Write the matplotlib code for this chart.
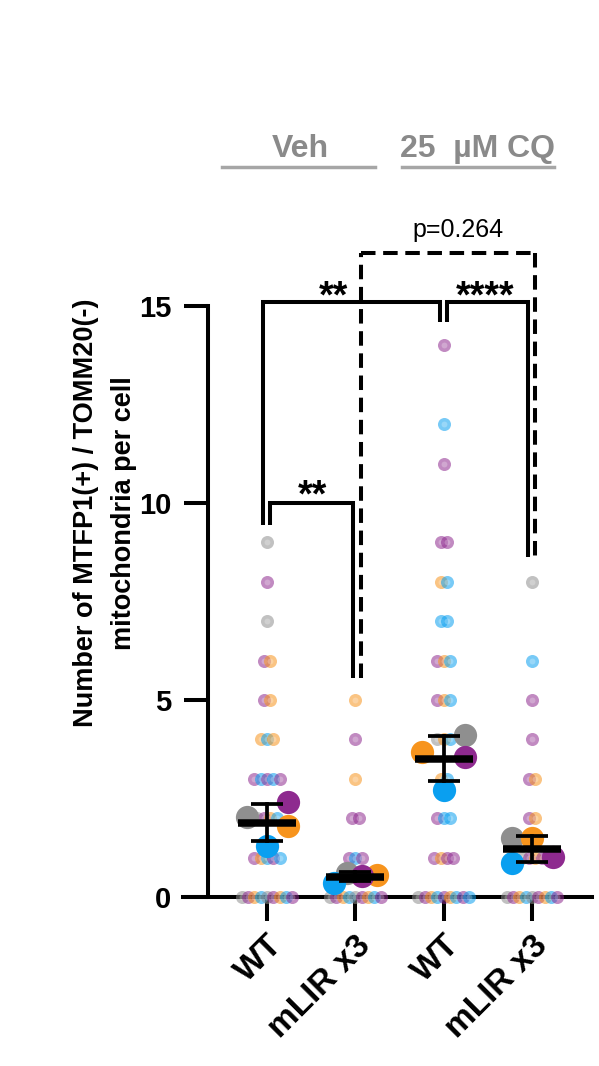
import numpy as np
import matplotlib
matplotlib.use("Agg")
import matplotlib.pyplot as plt
from matplotlib.lines import Line2D

plt.rcParams['font.family'] = ['Liberation Sans', 'DejaVu Sans']

# ---------------- data ----------------
groups = ['WT', 'mLIR x3', 'WT', 'mLIR x3']
treatments = ['Veh', '25  \u00b5M CQ']
replicates = ['rep1', 'rep2', 'rep3', 'rep4']          # gray, purple, orange, blue
rep_colors = ['#8f8f8f', '#8e2a8f', '#f7941d', '#0a9ff0']

# per-cell values (counts per cell) for each replicate (gray, purple, orange, blue)
wt_veh_cells = [
    [9, 7, 2, 0, 0],
    [8, 6, 5, 3, 3, 3, 2, 1, 1, 0, 0, 0],
    [6, 5, 4, 4, 2, 1, 0, 0],
    [4, 3, 3, 2, 1, 1, 0, 0],
]
mlir_veh_cells = [
    [0, 0],
    [4, 2, 2, 1, 1, 0, 0, 0],
    [5, 3, 0, 0],
    [1, 0, 0],
]
wt_cq_cells = [
    [4, 0],
    [14, 11, 9, 9, 6, 5, 2, 1, 1, 1, 0, 0, 0],
    [8, 6, 5, 4, 3, 1, 0, 0],
    [12, 8, 7, 7, 6, 5, 4, 3, 2, 2, 0, 0, 0],
]
mlir_cq_cells = [
    [8, 1, 0, 0],
    [5, 4, 3, 2, 1, 1, 0, 0, 0],
    [3, 2, 1, 0, 0],
    [6, 0, 0],
]
cells = [wt_veh_cells, mlir_veh_cells, wt_cq_cells, mlir_cq_cells]

# replicate means (big dots)
wt_veh_means = [2.03, 2.41, 1.80, 1.29]
mlir_veh_means = [0.61, 0.53, 0.56, 0.36]
wt_cq_means = [4.11, 3.55, 3.68, 2.72]
mlir_cq_means = [1.50, 1.02, 1.50, 0.86]
rep_means = [wt_veh_means, mlir_veh_means, wt_cq_means, mlir_cq_means]

# horizontal placement of the replicate-mean dots (style, category units)
big_offsets = [
    [-0.23, 0.24, 0.24, 0.0],
    [-0.10, 0.08, 0.24, -0.24],
    [0.24, 0.24, -0.24, 0.0],
    [-0.23, 0.24, 0.0, -0.23],
]

# significance annotations
sig_labels = ['**', '**', '****', 'p=0.264']
y_ticks = [0, 5, 10, 15]
y_label = 'Number of MTFP1(+) / TOMM20(-)\nmitochondria per cell'

# ---------------- figure ----------------
W, H = 599, 1066
fig = plt.figure(figsize=(W / 100, H / 100), dpi=100)

def fx(px):
    return px / W

def fy(py):
    return 1 - py / H

ax = fig.add_axes([fx(183), fy(897), fx(592) - fx(183), fy(306) - fy(897)])
xpos = np.arange(len(groups))
ax.set_xlim(-0.951, 3.679)
ax.set_ylim(0, 15)

for s in ['top', 'right']:
    ax.spines[s].set_visible(False)
ax.spines['left'].set_position(('data', -0.668))
ax.spines['left'].set_bounds(0, 15)
for s in ['left', 'bottom']:
    ax.spines[s].set_linewidth(2.9)
    ax.spines[s].set_zorder(1)
ax.tick_params(axis='both', direction='out', length=17.5, width=2.9)
ax.tick_params(axis='y', pad=9, labelsize=21)
ax.tick_params(axis='x', pad=6, labelsize=24)
ax.set_yticks(y_ticks)
ax.set_yticklabels([str(t) for t in y_ticks], fontweight='bold')
ax.set_xticks(xpos)
ax.set_xticklabels(groups, fontweight='bold', rotation=45, ha='right',
                   va='top', rotation_mode='anchor')
ax.patch.set_alpha(0)

# small dots (individual cells), swarm-like rows
step_max = 0.072
width_max = 0.60
for gi, grp in enumerate(cells):
    values = sorted(set(v for rep in grp for v in rep))
    for v in values:
        per_rep = [[ri] * sum(1 for c in rep if c == v) for ri, rep in enumerate(grp)]
        order = []
        while any(per_rep):
            for lst in per_rep:
                if lst:
                    order.append(lst.pop())
        n = len(order)
        step = step_max if n < 2 else min(step_max, width_max / (n - 1))
        xs = xpos[gi] + (np.arange(n) - (n - 1) / 2) * step
        for x, ri in zip(xs, order):
            ax.scatter([x], [v], s=88, color=rep_colors[ri], alpha=0.55,
                       linewidths=0, zorder=3, clip_on=False)
            ax.scatter([x], [v], s=18, color='white', alpha=0.25,
                       linewidths=0, zorder=3, clip_on=False)

# big dots (replicate means)
draw_order = [0, 2, 3, 1]
for gi in range(len(groups)):
    for ri in draw_order:
        ax.scatter([xpos[gi] + big_offsets[gi][ri]], [rep_means[gi][ri]], s=280,
                   color=rep_colors[ri], linewidths=0, zorder=4, clip_on=False)
    m = np.mean(rep_means[gi])
    sd = np.std(rep_means[gi], ddof=1)
    ax.plot([xpos[gi] - 0.33, xpos[gi] + 0.33], [m, m], color='black', lw=5.4,
            solid_capstyle='butt', zorder=6)
    ax.plot([xpos[gi], xpos[gi]], [m - sd, m + sd], color='black', lw=2.7, zorder=6)
    for yy in (m - sd, m + sd):
        ax.plot([xpos[gi] - 0.18, xpos[gi] + 0.18], [yy, yy], color='black', lw=2.7,
                solid_capstyle='butt', zorder=6)

# brackets
def bracket(x1, x2, ytop, yl, yr, ls='-'):
    if ls != '-':
        kw = dict(color='black', lw=2.9, clip_on=False, zorder=5,
                  linestyle=(0, (3.6, 1.9)), dash_capstyle='butt')
        ax.add_line(Line2D([x1, x1], [yl, ytop], **kw))
        ax.add_line(Line2D([x1, x2], [ytop, ytop], **kw))
        ax.add_line(Line2D([x2, x2], [ytop, yr], **kw))
    else:
        kw = dict(color='black', lw=2.9, clip_on=False, zorder=5,
                  solid_joinstyle='miter', solid_capstyle='butt')
        ax.add_line(Line2D([x1, x1, x2, x2], [yl, ytop, ytop, yr], **kw))

bracket(0.034, 0.974, 10.0, 9.44, 5.56)            # WT vs mLIR (Veh)
bracket(-0.045, 1.96, 15.1, 9.44, 14.59)           # WT Veh vs WT CQ
bracket(2.04, 2.955, 15.1, 14.59, 8.63)            # WT CQ vs mLIR CQ
bracket(1.064, 3.034, 16.35, 5.56, 8.63, ls='--')  # mLIR Veh vs mLIR CQ

ax.text(0.51, 9.9, sig_labels[0], ha='center', va='baseline', fontsize=27,
        fontweight='bold', clip_on=False)
ax.text(0.75, 14.97, sig_labels[1], ha='center', va='baseline', fontsize=27,
        fontweight='bold', clip_on=False)
ax.text(2.47, 14.97, sig_labels[2], ha='center', va='baseline', fontsize=27,
        fontweight='bold', clip_on=False)
ax.text(2.16, 16.75, sig_labels[3], ha='center', va='baseline', fontsize=18,
        clip_on=False)

# treatment headers
hdr_color = '#8a8a8a'
fig.text(fx(300), fy(157), treatments[0], ha='center', va='baseline', fontsize=23,
         fontweight='bold', color=hdr_color)
fig.text(fx(478), fy(157), treatments[1], ha='center', va='baseline', fontsize=23,
         fontweight='bold', color=hdr_color)
fig.add_artist(Line2D([fx(222), fx(375)], [fy(167), fy(167)], color='#a6a6a6', lw=2.5))
fig.add_artist(Line2D([fx(402), fx(554)], [fy(167), fy(167)], color='#a6a6a6', lw=2.5))

# y label
fig.text(fx(105), fy(513), y_label, rotation=90, ha='center', va='center',
         multialignment='center', fontsize=19.5, fontweight='bold', linespacing=1.6)

fig.savefig('out.png', dpi=100)
